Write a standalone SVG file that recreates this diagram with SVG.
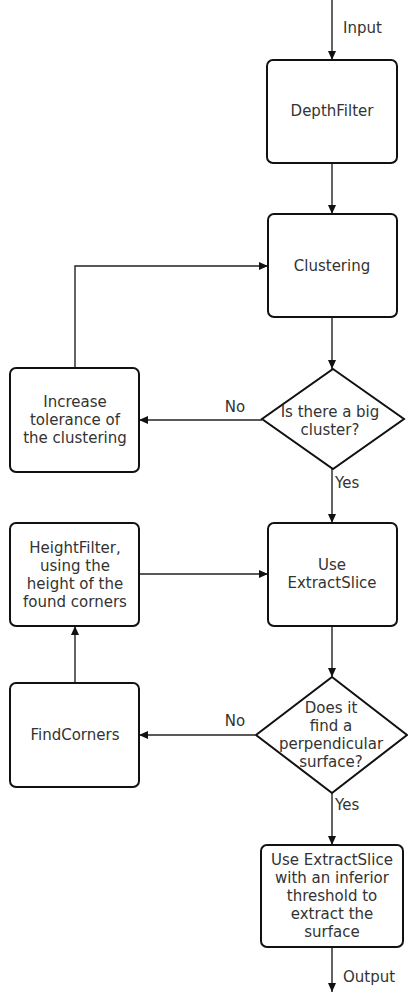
<svg xmlns="http://www.w3.org/2000/svg" width="408" height="996" viewBox="0 0 408 996">
<style>
.box{fill:#fff;stroke:#111;stroke-width:2}
.c{fill:none;stroke:#222;stroke-width:1.4}
text{font-family:"DejaVu Sans",sans-serif;font-size:15px;fill:#333}
.m{text-anchor:middle}
</style>
<defs>
<marker id="ah" markerWidth="10" markerHeight="10" refX="9" refY="5" orient="auto" markerUnits="userSpaceOnUse">
<path d="M0,1 L9,5 L0,9 Z" fill="#111"/>
</marker>
</defs>
<rect width="408" height="996" fill="#fff"/>
<g id="connectors">
<path class="c" d="M332,0 V60" marker-end="url(#ah)"/>
<path class="c" d="M332,163 V214" marker-end="url(#ah)"/>
<path class="c" d="M332,317 V369" marker-end="url(#ah)"/>
<path class="c" d="M262,420 H139" marker-end="url(#ah)"/>
<path class="c" d="M75,368 V266 H268" marker-end="url(#ah)"/>
<path class="c" d="M332,469 V523" marker-end="url(#ah)"/>
<path class="c" d="M139,574 H268" marker-end="url(#ah)"/>
<path class="c" d="M332,626 V677" marker-end="url(#ah)"/>
<path class="c" d="M255,735 H139" marker-end="url(#ah)"/>
<path class="c" d="M75,683 V626" marker-end="url(#ah)"/>
<path class="c" d="M332,793 V845" marker-end="url(#ah)"/>
<path class="c" d="M332,947 V992" marker-end="url(#ah)"/>
<text x="343" y="33">Input</text>
<text x="235" y="412" class="m">No</text>
<text x="335" y="488">Yes</text>
<text x="235" y="726" class="m">No</text>
<text x="335" y="810">Yes</text>
<text x="343" y="982">Output</text>
</g>
<g id="depthfilter">
<rect class="box" x="267" y="60" width="130" height="103" rx="6"/>
<text x="332" y="116" class="m">DepthFilter</text>
</g>
<g id="clustering">
<rect class="box" x="268" y="214" width="129" height="103" rx="6"/>
<text x="332" y="271" class="m">Clustering</text>
</g>
<g id="bigcluster">
<polygon class="box" points="333,369 404,419 333,469 262,419"/>
<text x="330" y="417" class="m">Is there a big</text>
<text x="330" y="435" class="m">cluster?</text>
</g>
<g id="increase">
<rect class="box" x="10" y="368" width="129" height="104" rx="6"/>
<text x="75" y="407" class="m">Increase</text>
<text x="75" y="425" class="m">tolerance of</text>
<text x="75" y="443" class="m">the clustering</text>
</g>
<g id="heightfilter">
<rect class="box" x="10" y="523" width="129" height="103" rx="6"/>
<text x="75" y="553" class="m">HeightFilter,</text>
<text x="75" y="571" class="m">using the</text>
<text x="75" y="589" class="m">height of the</text>
<text x="75" y="607" class="m">found corners</text>
</g>
<g id="extractslice">
<rect class="box" x="268" y="523" width="129" height="103" rx="6"/>
<text x="332" y="570" class="m">Use</text>
<text x="332" y="588" class="m">ExtractSlice</text>
</g>
<g id="perpendicular">
<polygon class="box" points="332,677 407,735 332,793 256,735"/>
<text x="331" y="713" class="m">Does it</text>
<text x="331" y="731" class="m">find a</text>
<text x="331" y="749" class="m">perpendicular</text>
<text x="331" y="767" class="m">surface?</text>
</g>
<g id="findcorners">
<rect class="box" x="10" y="683" width="129" height="104" rx="6"/>
<text x="75" y="740" class="m">FindCorners</text>
</g>
<g id="final">
<rect class="box" x="261" y="845" width="142" height="102" rx="6"/>
<text x="332" y="865" class="m">Use ExtractSlice</text>
<text x="332" y="883" class="m">with an inferior</text>
<text x="332" y="901" class="m">threshold to</text>
<text x="332" y="919" class="m">extract the</text>
<text x="332" y="937" class="m">surface</text>
</g>
</svg>
